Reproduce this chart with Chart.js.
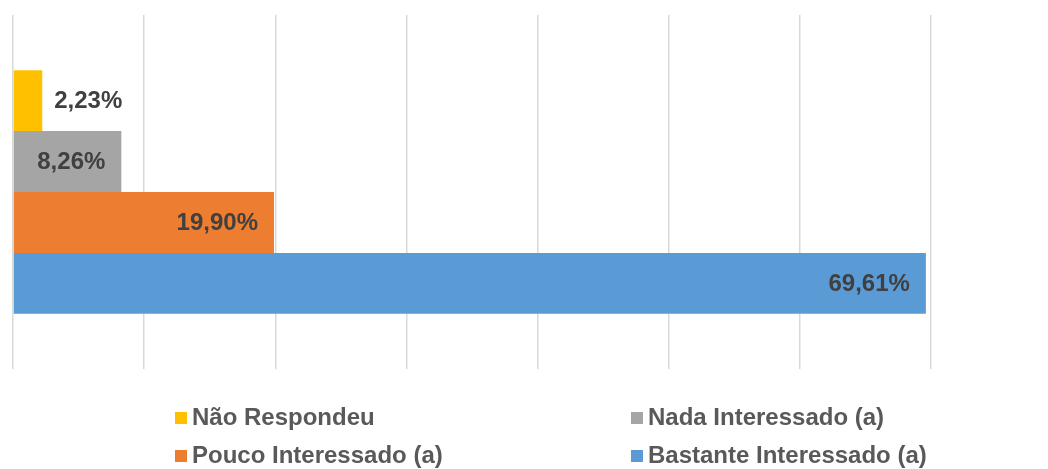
<!DOCTYPE html>
<html>
<head>
<meta charset="utf-8">
<script src="https://cdn.jsdelivr.net/npm/chart.js@4.4.0/dist/chart.umd.min.js"></script>
<style>
  html, body { margin: 0; padding: 0; background: #fff; }
  #wrap { position: relative; width: 1048px; height: 469px; }
  #legenda {
    position: absolute; left: 0; top: 404px; width: 1048px;
    font-family: "Liberation Sans", Arial, sans-serif; font-weight: bold;
    font-size: 24px; color: #595959;
  }
  .item { position: absolute; white-space: nowrap; line-height: 26px; }
  .item span.cx { display: inline-block; width: 12px; height: 12px; margin-right: 5px; vertical-align: 1px; }
</style>
</head>
<body>
<div id="wrap">
  <canvas id="grafico" width="1048" height="469"></canvas>
  <div id="legenda"></div>
</div>
<script>
// dados do gráfico
const categorias = [""];
const series = ["Não Respondeu", "Nada Interessado (a)", "Pouco Interessado (a)", "Bastante Interessado (a)"];
const valores = [2.23, 8.26, 19.90, 69.61];
const cores = ["#FFC000", "#A5A5A5", "#ED7D31", "#5B9BD5"];
const ticksX = [0, 10, 20, 30, 40, 50, 60, 70];

const fonte = '"Liberation Sans", Arial, sans-serif';

// rótulos de dados (estilo Excel: dentro do fim, ou fora se não cabe)
const rotulos = {
  id: "rotulos",
  afterDatasetsDraw(chart) {
    const ctx = chart.ctx;
    ctx.save();
    ctx.font = "bold 24px " + fonte;
    ctx.fillStyle = "#404040";
    ctx.textBaseline = "middle";
    chart.data.datasets.forEach((ds, i) => {
      const meta = chart.getDatasetMeta(i);
      meta.data.forEach((bar, j) => {
        const txt = ds.data[j].toFixed(2).replace(".", ",") + "%";
        const w = ctx.measureText(txt).width;
        const largura = bar.x - bar.base;
        if (w + 32 > largura) {
          ctx.textAlign = "left";
          ctx.fillText(txt, bar.x + 12, bar.y + 1);
        } else {
          ctx.textAlign = "right";
          ctx.fillText(txt, bar.x - 16, bar.y + 1);
        }
      });
    });
    ctx.restore();
  }
};

const datasets = series.map((nome, i) => ({
  label: nome,
  data: [valores[i]],
  backgroundColor: cores[i],
  borderWidth: 0,
  barPercentage: 1,
  categoryPercentage: 0.688
}));

new Chart(document.getElementById("grafico"), {
  type: "bar",
  data: { labels: categorias, datasets: datasets },
  options: {
    indexAxis: "y",
    responsive: false,
    animation: false,
    layout: { padding: { left: 13, right: 117, top: 15, bottom: 100 } },
    plugins: { legend: { display: false }, tooltip: { enabled: false } },
    scales: {
      x: {
        min: ticksX[0],
        max: ticksX[ticksX.length - 1],
        afterBuildTicks: (axis) => { axis.ticks = ticksX.map(v => ({ value: v })); },
        ticks: { display: false },
        grid: { color: "#d9d9d9", lineWidth: 1.5, drawTicks: false },
        border: { display: false }
      },
      y: { display: false }
    }
  },
  plugins: [rotulos]
});

// legenda em HTML
const posLegenda = [[175, 0], [631, 0], [175, 38], [631, 38]];
const legenda = document.getElementById("legenda");
series.forEach((nome, i) => {
  const d = document.createElement("div");
  d.className = "item";
  d.style.left = posLegenda[i][0] + "px";
  d.style.top = posLegenda[i][1] + "px";
  d.innerHTML = '<span class="cx" style="background:' + cores[i] + '"></span>' + nome;
  legenda.appendChild(d);
});
</script>
</body>
</html>
